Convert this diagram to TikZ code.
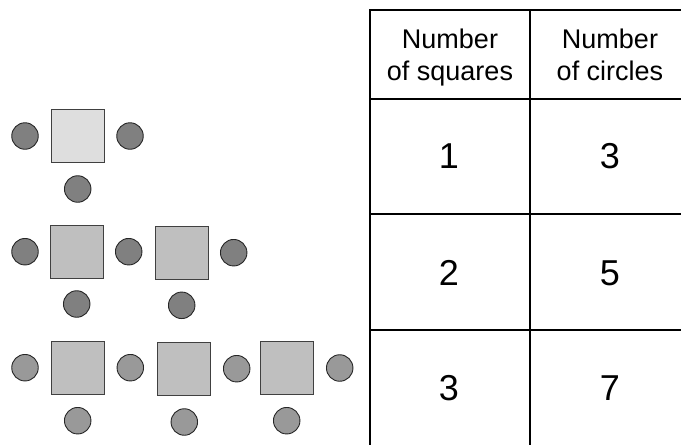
\documentclass[tikz,border=0pt]{standalone}
\usepackage{fontspec}
\setmainfont{Liberation Sans}
\begin{document}
\begin{tikzpicture}[x=1pt,y=-1pt,
  sq/.style={draw=black!75,line width=0.9pt,minimum size=53pt,inner sep=0pt,fill=#1},
  sq/.default={black!25},
  dot/.style={circle,draw=black!85,line width=0.9pt,minimum size=26.5pt,inner sep=0pt,fill=#1},
  dot/.default={black!50},
  grid/.style={line width=2pt,line cap=rect},
  head/.style={font=\fontsize{27}{32}\selectfont,anchor=base,inner sep=0pt},
  num/.style={font=\fontsize{36}{40}\selectfont,anchor=base,inner sep=0pt}]
\useasboundingbox (0,0) rectangle (681,445);
% row 1
\node[dot] (a1) at (25,136) {};
\node[sq={black!13}] (s1) at (78,135.8) {};
\node[dot] (a2) at (130,136) {};
\node[dot] (a3) at (77.7,189) {};
% row 2
\node[dot] (b1) at (25,251.7) {};
\node[sq] (t1) at (76.8,251.6) {};
\node[dot] (b2) at (128.7,251.7) {};
\node[sq] (t2) at (181.7,253) {};
\node[dot] (b3) at (233.7,252.7) {};
\node[dot] (b4) at (76.7,304) {};
\node[dot] (b5) at (181.7,305.3) {};
% row 3
\node[dot={black!40}] (c1) at (25,367.7) {};
\node[sq] (u1) at (78,367.5) {};
\node[dot={black!40}] (c2) at (130.3,367.7) {};
\node[sq] (u2) at (184.2,368.8) {};
\node[dot={black!40}] (c3) at (236.7,368.7) {};
\node[sq] (u3) at (287,367.5) {};
\node[dot={black!40}] (c4) at (339.7,368) {};
\node[dot={black!40}] (c5) at (77.7,420.7) {};
\node[dot={black!40}] (c6) at (184.3,422) {};
\node[dot={black!40}] (c7) at (286.7,420.7) {};
% table
\coordinate (tl) at (370,10);
\coordinate (tr) at (690,10);
\coordinate (tm) at (530,10);
\coordinate (bl) at (370,450);
\coordinate (bm) at (530,450);
\draw[grid] (tl) -- (tr);
\draw[grid] (tl) -- (bl);
\draw[grid] (tm) -- (bm);
\draw[grid] (370,99) -- (690,99);
\draw[grid] (370,214) -- (690,214);
\draw[grid] (370,330) -- (690,330);
\node[head] (h1a) at (450,48.3) {Number};
\node[head] (h1b) at (450,80.7) {of squares};
\node[head] (h2a) at (610,48.3) {Number};
\node[head] (h2b) at (610,80.7) {of circles};
\node[num] (n1) at (449,168.3) {1};
\node[num] (n2) at (610,168.3) {3};
\node[num] (n3) at (449,285) {2};
\node[num] (n4) at (610,285) {5};
\node[num] (n5) at (449,400.5) {3};
\node[num] (n6) at (610,400.5) {7};
\end{tikzpicture}
\end{document}
